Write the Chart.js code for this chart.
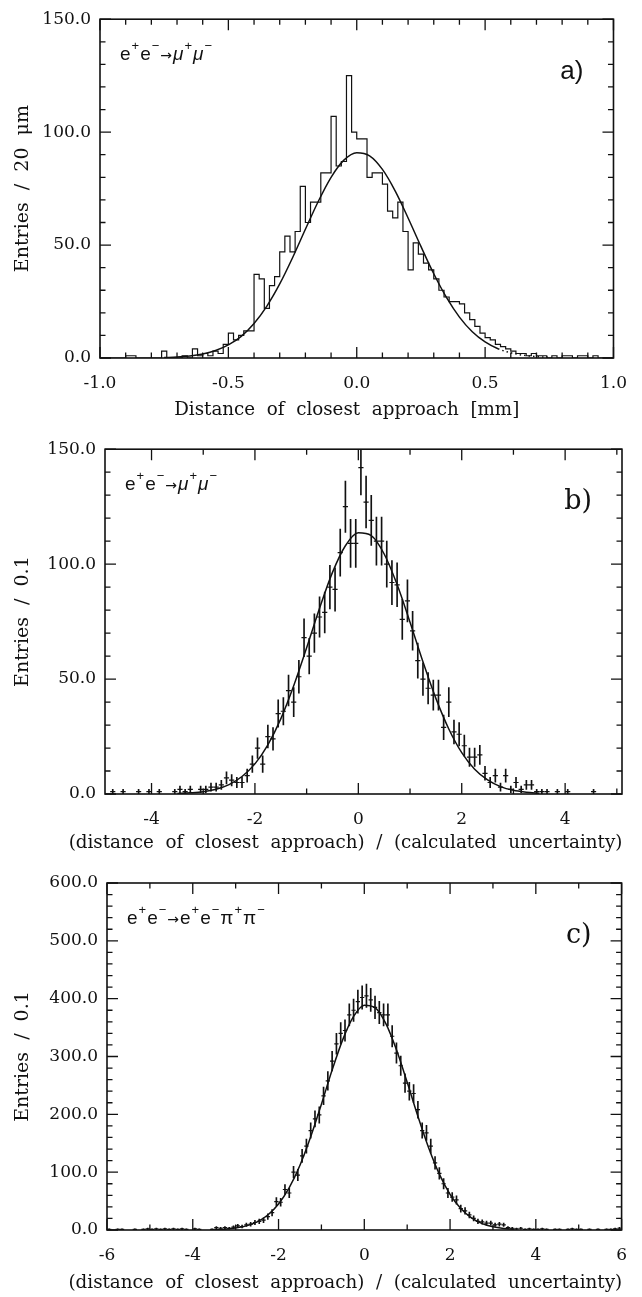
<!DOCTYPE html>
<html>
<head>
<meta charset="utf-8">
<script src="https://cdn.jsdelivr.net/npm/chart.js@4.4.1/dist/chart.umd.min.js"></script>
<style>
  html, body { margin: 0; padding: 0; background: #fff; }
  #page { position: relative; width: 642px; height: 1297px; }
  canvas { position: absolute; left: 0; }
</style>
</head>
<body>
<div id="page">
  <canvas id="chartA" width="642" height="420" style="top:0"></canvas>
  <canvas id="chartB" width="642" height="423" style="top:430px"></canvas>
  <canvas id="chartC" width="642" height="444" style="top:853px"></canvas>
</div>
<script>
// ---- a) distance of closest approach, 20 um bins from -1.0 mm ----
const aBinLow = -1.0;
const aBinWidth = 0.02;
const aCounts = [
  0, 0, 0, 0, 0, 0, 1, 1, 0, 0,
  0, 0, 0, 3, 0, 0, 0, 1, 0, 4,
  1, 2, 1, 3, 2, 6, 11, 8, 10, 12,
  12, 37, 35, 22, 32, 36, 47, 54, 47, 56,
  76, 60, 69, 69, 82, 82, 107, 85, 87, 125,
  100, 97, 97, 80, 82, 82, 77, 65, 62, 69,
  56, 39, 51, 46, 42, 39, 35, 30, 27, 25,
  25, 24, 20, 17, 14, 11, 9, 8, 6, 5,
  4, 3, 2, 2, 1, 2, 1, 1, 0, 1,
  0, 1, 1, 0, 1, 1, 0, 1, 0, 0
];
const aFitX = [-0.75, -0.70, -0.65, -0.60, -0.55, -0.50, -0.45, -0.40, -0.35, -0.30, -0.25,
  -0.20, -0.15, -0.10, -0.05, 0.00, 0.05, 0.10, 0.15, 0.20, 0.25, 0.30, 0.35, 0.40, 0.45,
  0.50, 0.55, 0.60, 0.65, 0.70, 0.75];
const aFitY = [0.2, 0.4, 0.9, 1.8, 3.3, 5.8, 9.6, 15.3, 23.0, 32.8, 44.4,
  57.0, 69.3, 80.0, 87.6, 90.9, 89.5, 83.5, 73.9, 62.0, 49.4, 37.3, 26.7, 18.1, 11.6,
  7.1, 4.1, 2.3, 1.2, 0.6, 0.3];
const aFitEnd = 0.55; // fit drawn dotted beyond this
const aXTicks = [-1.0, -0.5, 0.0, 0.5, 1.0];
const aYTicks = [0, 50, 100, 150];

// ---- b) normalised distance, mu pairs, bins of 0.1 from -4.9 ----
const bBinLow = -4.9;
const bBinWidth = 0.1;
const bCounts = [
  0, 1, 0, 1, 0, 0, 1, 0, 1, 0,
  1, 0, 0, 1, 2, 1, 2, 0, 2, 2,
  3, 3, 4, 7, 6, 5, 5, 8, 13, 20,
  13, 25, 24, 35, 36, 45, 40, 51, 68, 60,
  70, 77, 79, 90, 89, 105, 125, 109, 109, 142,
  127, 119, 110, 110, 100, 92, 91, 76, 84, 71,
  58, 50, 46, 43, 43, 29, 40, 27, 26, 21,
  16, 16, 17, 9, 5, 8, 3, 8, 2, 5,
  2, 4, 4, 1, 1, 1, 0, 1, 0, 1,
  0, 0, 0, 0, 1, 0, 0, 0, 0, 0
];
const bFitX = [-3.5, -3.25, -3.0, -2.75, -2.5, -2.25, -2.0, -1.75, -1.5, -1.25, -1.0, -0.75,
  -0.5, -0.25, 0, 0.25, 0.5, 0.75, 1.0, 1.25, 1.5, 1.75, 2.0, 2.25, 2.5, 2.75, 3.0, 3.25, 3.5];
const bFitY = [0.2, 0.5, 1.0, 2.1, 4.1, 7.6, 13.1, 21.4, 32.7, 47.1, 63.6, 80.8,
  96.4, 108.0, 113.6, 112.4, 104.4, 91.1, 74.7, 57.5, 41.6, 28.3, 18.0, 10.8, 6.1, 3.2, 1.6, 0.8, 0.3];
const bXTicks = [-4, -2, 0, 2, 4];
const bYTicks = [0, 50, 100, 150];

// ---- c) normalised distance, two-photon pions, bins of 0.1 from -6 ----
const cBinLow = -6.0;
const cBinWidth = 0.1;
const cCounts = [
  1, 0, 1, 1, 0, 0, 1, 0, 1, 2,
  1, 2, 1, 2, 1, 2, 1, 2, 1, 0,
  2, 1, 0, 0, 1, 4, 3, 4, 3, 5,
  7, 6, 9, 10, 13, 15, 17, 23, 30, 49,
  48, 70, 64, 100, 95, 128, 145, 172, 192, 199,
  232, 258, 292, 322, 340, 345, 372, 380, 395, 402,
  405, 398, 385, 376, 372, 372, 335, 306, 284, 254,
  240, 236, 208, 172, 168, 145, 116, 98, 80, 64,
  57, 52, 37, 33, 26, 20, 15, 14, 12, 12,
  9, 10, 9, 4, 3, 2, 3, 1, 2, 1,
  1, 2, 1, 0, 1, 1, 0, 1, 2, 1,
  1, 0, 1, 0, 1, 0, 1, 1, 2, 3
];
const cFitX = bFitX;
const cFitY = [0.7, 1.5, 3.4, 7.1, 14.0, 25.9, 44.9, 73.1, 111.9, 161.1, 217.6, 276.5,
  329.6, 369.3, 388.8, 384.5, 357.2, 311.6, 255.5, 196.7, 142.3, 96.7, 61.7, 37.0, 20.9, 11.0, 5.5, 2.6, 1.1];
const cXTicks = [-6, -4, -2, 0, 2, 4, 6];
const cYTicks = [0, 100, 200, 300, 400, 500, 600];

const aReaction = [['e', 'b'], ['+', 's'], ['e', 'b'], ['\u2212', 's'], ['\u2192', 'a'],
  ['\u03bc', 'g'], ['+', 's'], ['\u03bc', 'g'], ['\u2212', 's']];
const cReaction = [['e', 'b'], ['+', 's'], ['e', 'b'], ['\u2212', 's'], ['\u2192', 'a'],
  ['e', 'b'], ['+', 's'], ['e', 'b'], ['\u2212', 's'], ['\u03c0', 'b'], ['+', 's'], ['\u03c0', 'b'], ['\u2212', 's']];

const INK = '#111';
const SERIF = '"DejaVu Serif", serif';
Chart.defaults.font.family = SERIF;
Chart.defaults.color = INK;

function steps(min, max, step) {
  const out = [];
  for (let k = Math.ceil(min / step - 1e-6); k * step <= max + 1e-6; k++) out.push(k * step);
  return out;
}

// stepped outline: one point per low edge, plus the closing edge
function histLine(low, width, counts) {
  const pts = counts.map((n, i) => ({ x: low + i * width, y: n }));
  pts.push({ x: low + counts.length * width, y: counts[counts.length - 1] });
  return pts;
}

function binPoints(low, width, counts) {
  const pts = [];
  counts.forEach((n, i) => { if (n > 0) pts.push({ x: low + (i + 0.5) * width, y: n }); });
  return pts;
}

function errorBars(low, width, counts) {
  const pts = [];
  counts.forEach((n, i) => {
    if (n > 0) {
      const e = Math.sqrt(n);
      pts.push({ x: low + (i + 0.5) * width, y: [Math.max(0, n - e), n + e] });
    }
  });
  return pts;
}

function fitLine(xs, ys, dotFrom) {
  const ds = {
    type: 'line',
    data: xs.map((x, i) => ({ x: x, y: ys[i] })),
    borderColor: INK,
    borderWidth: 1.5,
    pointRadius: 0,
    cubicInterpolationMode: 'monotone',
    fill: false
  };
  if (dotFrom !== undefined) {
    ds.segment = { borderDash: c => (c.p0.parsed.x >= dotFrom - 1e-6 ? [1.5, 3] : undefined) };
  }
  return ds;
}

// box round the plot with inward ticks on all four sides
function framePlugin(cfg) {
  return {
    id: 'frame',
    afterDatasetsDraw(chart) {
      const { ctx, chartArea: area, scales: { x, y } } = chart;
      ctx.save();
      ctx.strokeStyle = INK;
      ctx.lineWidth = 1.6;
      ctx.strokeRect(area.left, area.top, area.right - area.left, area.bottom - area.top);
      ctx.lineWidth = 1.3;
      ctx.beginPath();
      const mark = (scale, values, len) => values.forEach(v => {
        const p = scale.getPixelForValue(v);
        if (scale.isHorizontal()) {
          ctx.moveTo(p, area.bottom); ctx.lineTo(p, area.bottom - len);
          ctx.moveTo(p, area.top); ctx.lineTo(p, area.top + len);
        } else {
          ctx.moveTo(area.left, p); ctx.lineTo(area.left + len, p);
          ctx.moveTo(area.right, p); ctx.lineTo(area.right - len, p);
        }
      });
      mark(x, cfg.xTicks, 11);
      mark(x, steps(x.min, x.max, cfg.xMinor), 5.5);
      mark(y, cfg.yTicks, 11);
      mark(y, steps(y.min, y.max, cfg.yMinor), 5.5);
      ctx.stroke();
      ctx.restore();
    }
  };
}

function drawReaction(ctx, parts, x, y) {
  ctx.textBaseline = 'alphabetic';
  ctx.textAlign = 'left';
  parts.forEach(([t, k]) => {
    let font = '19px "Liberation Sans"';
    let dy = 0;
    if (k === 's') { font = '13px "Liberation Sans"'; dy = -10; }
    if (k === 'a') font = '14px "DejaVu Sans"';
    if (k === 'g') font = 'italic 19px "Liberation Sans"';
    ctx.font = font;
    ctx.fillText(t, x, y + dy);
    x += ctx.measureText(t).width + 1;
  });
}

// reaction, panel tag and the x-axis title
function labelPlugin(cfg) {
  return {
    id: 'labels',
    afterDraw(chart) {
      const { ctx, chartArea: area } = chart;
      ctx.save();
      ctx.fillStyle = INK;
      drawReaction(ctx, cfg.reaction, area.left + 20, area.top + 41);
      ctx.font = cfg.tagFont;
      ctx.textAlign = 'right';
      ctx.textBaseline = 'middle';
      ctx.fillText(cfg.tag, area.right - 30, area.top + 53);
      ctx.font = '18.3px ' + SERIF;
      ctx.textAlign = 'center';
      ctx.fillText(cfg.xTitle, (area.left + area.right) / 2 + cfg.titleShift, area.bottom + cfg.titleGap);
      ctx.restore();
    }
  };
}

function makePanel(id, cfg) {
  const tickFont = { size: 17, family: SERIF };
  const titleFont = { size: 19, family: SERIF };
  return new Chart(document.getElementById(id), {
    type: 'scatter',
    data: { datasets: cfg.datasets },
    options: {
      responsive: false,
      animation: false,
      events: [],
      layout: { padding: { top: cfg.padTop, right: cfg.padRight, left: 0, bottom: 0 } },
      plugins: { legend: { display: false }, tooltip: { enabled: false } },
      scales: {
        x: {
          type: 'linear',
          offset: false,
          min: cfg.xMin,
          max: cfg.xMax,
          grid: { display: false, drawTicks: false, offset: false },
          border: { display: false },
          afterBuildTicks: s => { s.ticks = cfg.xTicks.map(v => ({ value: v })); },
          afterFit: s => { s.height = cfg.xHeight; },
          ticks: { font: tickFont, padding: 15, maxRotation: 0, autoSkip: false, callback: cfg.xFmt },
          title: { display: false }
        },
        y: {
          type: 'linear',
          min: cfg.yMin,
          max: cfg.yMax,
          grid: { display: false, drawTicks: false },
          border: { display: false },
          afterBuildTicks: s => { s.ticks = cfg.yTicks.map(v => ({ value: v })); },
          afterFit: s => { s.width = cfg.yWidth; },
          ticks: { font: tickFont, padding: 9, autoSkip: false, callback: v => v.toFixed(1) },
          title: { display: true, text: cfg.yTitle, font: titleFont, padding: { top: 12, bottom: 0 } }
        }
      }
    },
    plugins: [framePlugin(cfg), labelPlugin(cfg)]
  });
}

function pointSets(low, width, counts) {
  return [
    {
      type: 'bar',
      data: errorBars(low, width, counts),
      backgroundColor: INK,
      borderWidth: 0,
      barThickness: 1,
      grouped: false
    },
    {
      type: 'scatter',
      data: binPoints(low, width, counts),
      pointStyle: 'line',
      borderColor: INK,
      pointBorderWidth: 1.2,
      // horizontal stroke spans one bin
      pointRadius: c => {
        const s = c.chart.scales.x;
        return Math.abs(s.getPixelForValue(width) - s.getPixelForValue(0)) / 2;
      }
    }
  ];
}

const wideTitle = '(distance  of  closest  approach)  /  (calculated  uncertainty)';

makePanel('chartA', {
  datasets: [
    {
      type: 'line',
      data: histLine(aBinLow, aBinWidth, aCounts),
      stepped: 'after',
      borderColor: INK,
      borderWidth: 1.2,
      pointRadius: 0,
      fill: false
    },
    fitLine(aFitX, aFitY, aFitEnd)
  ],
  xMin: -1.0, xMax: 1.0, yMin: 0, yMax: 150,
  xTicks: aXTicks, yTicks: aYTicks, xMinor: 0.1, yMinor: 10,
  xFmt: v => v.toFixed(1),
  xTitle: 'Distance  of  closest  approach  [mm]', titleShift: -10, titleGap: 52,
  yTitle: 'Entries  /  20  \u03bcm',
  padTop: 10, padRight: 22, yWidth: 100, xHeight: 62,
  reaction: aReaction, tag: 'a)', tagFont: '26px "Liberation Sans"'
});

makePanel('chartB', {
  datasets: [...pointSets(bBinLow, bBinWidth, bCounts), fitLine(bFitX, bFitY)],
  xMin: -4.9, xMax: 5.1, yMin: 0, yMax: 150,
  xTicks: bXTicks, yTicks: bYTicks, xMinor: 1, yMinor: 10,
  xFmt: v => String(v),
  xTitle: wideTitle, titleShift: -18, titleGap: 49,
  yTitle: 'Entries  /  0.1',
  padTop: 16, padRight: 20, yWidth: 105, xHeight: 59,
  reaction: aReaction, tag: 'b)', tagFont: '27px "DejaVu Serif"'
});

makePanel('chartC', {
  datasets: [...pointSets(cBinLow, cBinWidth, cCounts), fitLine(cFitX, cFitY)],
  xMin: -6, xMax: 6, yMin: 0, yMax: 600,
  xTicks: cXTicks, yTicks: cYTicks, xMinor: 1, yMinor: 20,
  xFmt: v => String(v),
  xTitle: wideTitle, titleShift: -19, titleGap: 53,
  yTitle: 'Entries  /  0.1',
  padTop: 30, padRight: 18, yWidth: 107, xHeight: 67,
  reaction: cReaction, tag: 'c)', tagFont: '27px "DejaVu Serif"'
});
</script>
</body>
</html>
